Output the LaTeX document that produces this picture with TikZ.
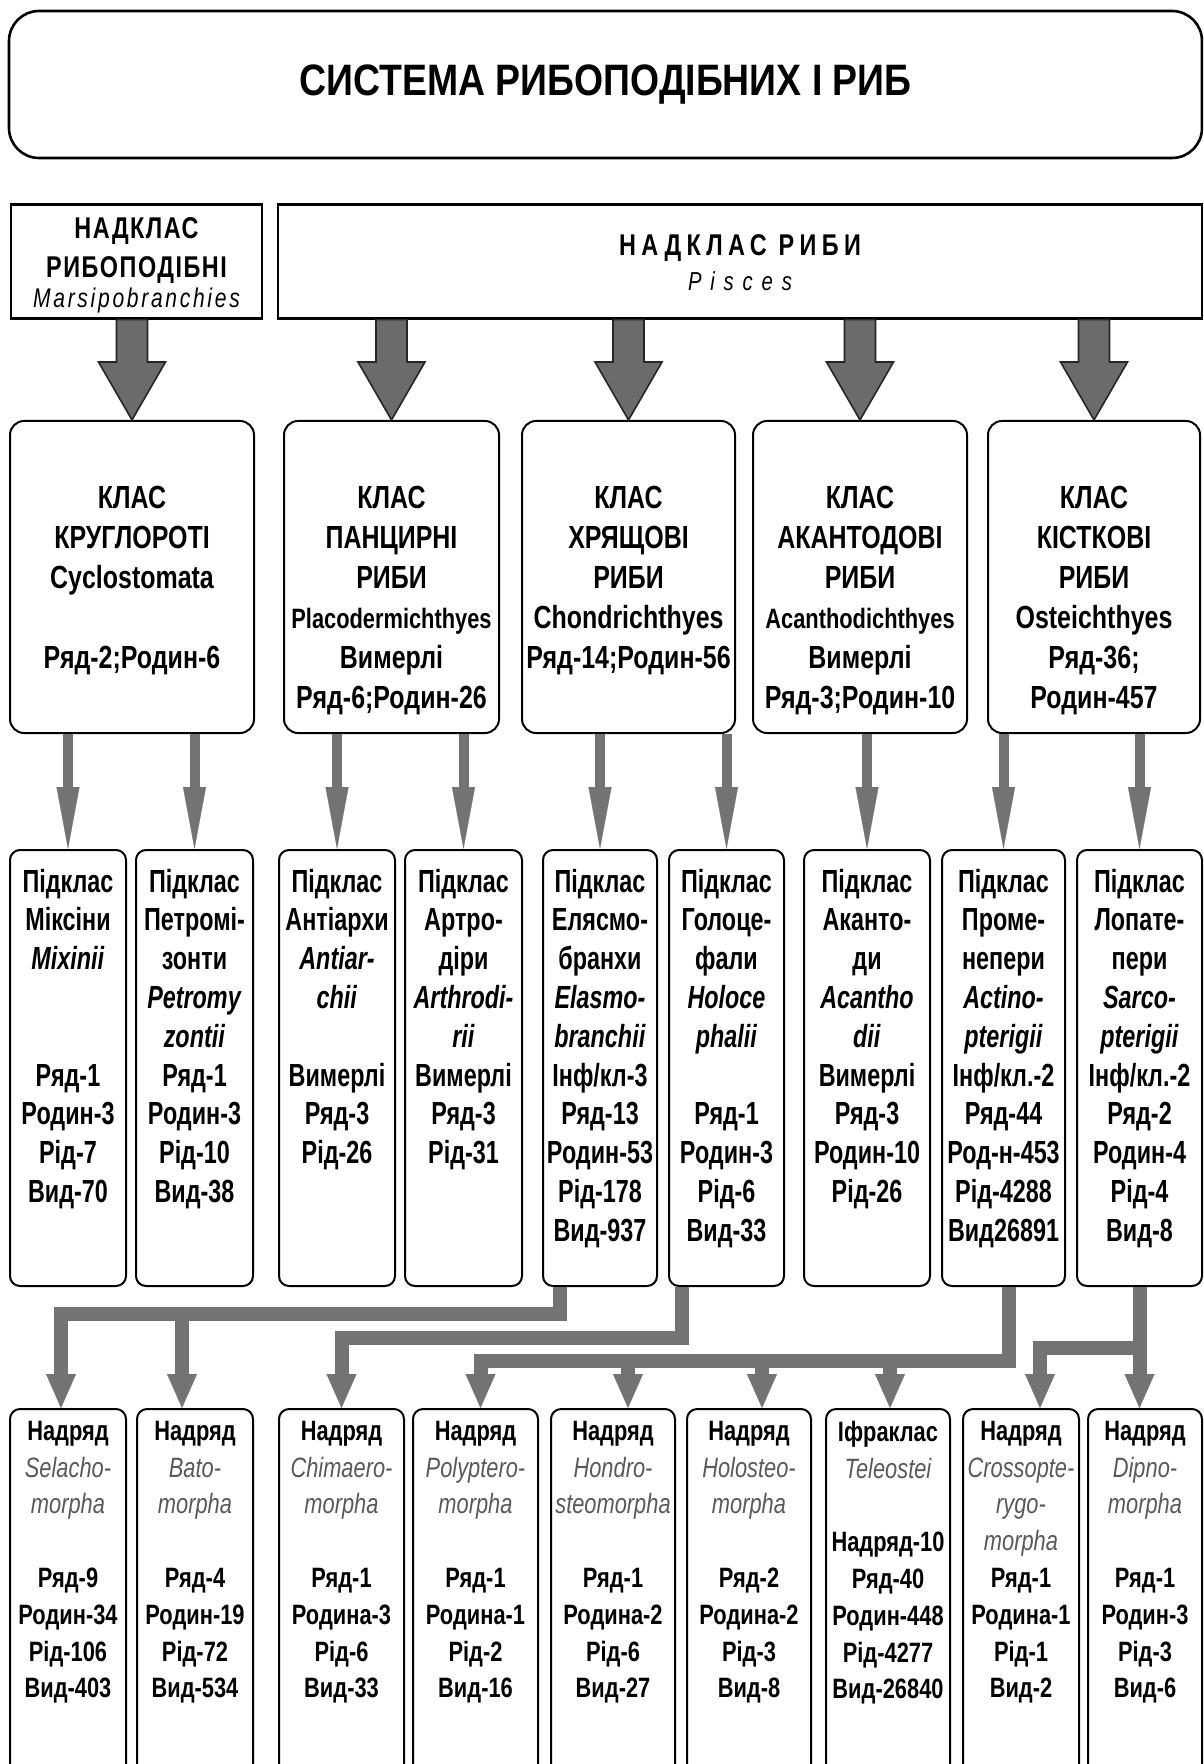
\documentclass[tikz,border=0pt]{standalone}
\usepackage{fontspec}
\setmainfont{Liberation Sans}[FakeStretch=0.78]
\newfontfamily\titlefont{Liberation Sans}[FakeStretch=0.85]
\newfontfamily\narrowfont{Liberation Sans}[FakeStretch=0.73]
\usetikzlibrary{arrows.meta,calc}

\newcommand{\cell}[3]{\parbox[t][#2][t]{#1}{\centering #3}}
\newcommand{\track}[1]{\addfontfeature{LetterSpace=#1}}
\newcommand{\lat}[1]{{\mdseries\itshape\color{black!65}#1}}

\begin{document}
\begin{tikzpicture}[x=0.5pt, y=-0.5pt,
        titlebox/.style={
            draw, line width=1.3pt, rounded corners=15pt,
            minimum width=596.5pt, minimum height=73.5pt,
            font=\titlefont\fontsize{22}{26}\selectfont\bfseries
        },
        superbox/.style={
            draw, line width=1.3pt, anchor=north, inner xsep=0pt
        },
        classbox/.style={
            draw, line width=1pt, rounded corners=7pt, anchor=north,
            inner xsep=0pt, inner ysep=32.5pt,
            font=\fontsize{16}{20}\selectfont\bfseries
        },
        subbox/.style={
            draw, line width=1pt, rounded corners=5pt, anchor=north,
            inner xsep=0pt, inner ysep=9.5pt,
            font=\narrowfont\fontsize{16}{19.4}\selectfont\bfseries
        },
        orderbox/.style={
            draw, line width=1pt, rounded corners=5pt, anchor=north,
            inner xsep=0pt, inner ysep=6pt,
            font=\fontsize{14}{18.4}\selectfont\bfseries
        },
        bigarrow/.style={fill=black!58, draw=black!85, line width=0.8pt},
        subarrow/.style={
            draw=black!55, line width=5pt,
            -{Triangle[length=31pt,width=11.5pt,line width=0.1pt]}
        },
        link/.style={
            draw=black!55, line width=7pt,
            -{Triangle[length=17pt,width=15pt,line width=0.1pt]}
        }
    ]
        \clip (0,0) rectangle (1203,1764);

        % Title
        \node[titlebox] (sys) at (605.5,84.5) {СИСТЕМА РИБОПОДІБНИХ І РИБ};

        % Superclasses
        \node[superbox, inner ysep=6.75pt, font=\fontsize{15}{19.5}\selectfont] (n1) at (136.5,203)
            {\cell{125.5pt}{43.5pt}{\bfseries\track{5}НАДКЛАС\\ РИБОПОДІБНІ\\[-4.5pt]
             {\fontsize{13.5}{19.5}\selectfont\mdseries\itshape\track{10}Marsipobranchies}}};
        \node[superbox, inner ysep=15.25pt, font=\fontsize{15}{17.5}\selectfont] (n2) at (740,203)
            {\cell{462pt}{26.5pt}{\bfseries\track{18}НАДКЛАС РИБИ\\
             {\fontsize{13}{17.5}\selectfont\mdseries\itshape\track{34}Pisces}}};

        % Classes
        \node[classbox] (k1) at (132,420) {\cell{122pt}{91pt}{КЛАС\\ КРУГЛОРОТІ\\ Cyclostomata\\[20pt] Ряд-2;Родин-6}};
        \node[classbox] (k2) at (391.5,420) {\cell{107.5pt}{91pt}{КЛАС\\ ПАНЦИРНІ\\ РИБИ\\
            {\fontsize{14}{20}\selectfont Placodermichthyes}\\ Вимерлі\\ Ряд-6;Родин-26}};
        \node[classbox] (k3) at (628.5,420) {\cell{106.5pt}{91pt}{КЛАС\\ ХРЯЩОВІ\\ РИБИ\\ Chondrichthyes\\ Ряд-14;Родин-56}};
        \node[classbox] (k4) at (860,420) {\cell{107pt}{91pt}{КЛАС\\ АКАНТОДОВІ\\ РИБИ\\
            {\fontsize{14}{20}\selectfont Acanthodichthyes}\\ Вимерлі\\ Ряд-3;Родин-10}};
        \node[classbox] (k5) at (1094,420) {\cell{106pt}{91pt}{КЛАС\\ КІСТКОВІ\\ РИБИ\\ Osteichthyes\\ Ряд-36;\\ Родин-457}};

        % Big arrows
        \foreach \kl/\nd in {k1/n1,k2/n2,k3/n2,k4/n2,k5/n2}
            \draw[bigarrow] (\kl.north) -- ++(-33.5,-58) -- ++(18,0)
                -- ($(\kl.north |- \nd.south)+(-15.5,0)$) -- ($(\kl.north |- \nd.south)+(15.5,0)$)
                -- ($(\kl.north)+(15.5,-58)$) -- ++(18,0) -- cycle;

        % Subclasses
        \node[subbox] (s1) at (68,849) {\cell{58pt}{199pt}{Підклас\\ Міксіни\\ \textit{Mixinii}\\[38.8pt]
            Ряд-1\\ Родин-3\\ Рід-7\\ Вид-70}};
        \node[subbox] (s2) at (194.5,849) {\cell{58.5pt}{199pt}{Підклас\\ Петромі-\\ зонти\\ \textit{Petromy}\\ \textit{zontii}\\
            Ряд-1\\ Родин-3\\ Рід-10\\ Вид-38}};
        \node[subbox] (s3) at (337,849) {\cell{58pt}{199pt}{Підклас\\ Антіархи\\ \textit{Antiar-}\\ \textit{chii}\\[19.4pt]
            Вимерлі\\ Ряд-3\\ Рід-26}};
        \node[subbox] (s4) at (463.5,849) {\cell{58.5pt}{199pt}{Підклас\\ Артро-\\ діри\\ \textit{Arthrodi-}\\ \textit{rii}\\
            Вимерлі\\ Ряд-3\\ Рід-31}};
        \node[subbox] (s5) at (600,849) {\cell{57pt}{199pt}{Підклас\\ Елясмо-\\ бранхи\\ \textit{Elasmo-}\\ \textit{branchii}\\
            Інф/кл-3\\ Ряд-13\\ Родин-53\\ Рід-178\\ Вид-937}};
        \node[subbox] (s6) at (726.5,849) {\cell{57.5pt}{199pt}{Підклас\\ Голоце-\\ фали\\ \textit{Holoce}\\ \textit{phalii}\\[19.4pt]
            Ряд-1\\ Родин-3\\ Рід-6\\ Вид-33}};
        \node[subbox] (s7) at (867,849) {\cell{63pt}{199pt}{Підклас\\ Аканто-\\ ди\\ \textit{Acantho}\\ \textit{dii}\\
            Вимерлі\\ Ряд-3\\ Родин-10\\ Рід-26}};
        \node[subbox] (s8) at (1003.5,849) {\cell{61.5pt}{199pt}{Підклас\\ Проме-\\ непери\\ \textit{Actino-}\\ \textit{pterigii}\\
            Інф/кл.-2\\ Ряд-44\\ Род-н-453\\ Рід-4288\\ Вид26891}};
        \node[subbox] (s9) at (1139.5,849) {\cell{62.5pt}{199pt}{Підклас\\ Лопате-\\ пери\\ \textit{Sarco-}\\ \textit{pterigii}\\
            Інф/кл.-2\\ Ряд-2\\ Родин-4\\ Рід-4\\ Вид-8}};

        % Thin arrows
        \foreach \kl/\sb in {k1/s1,k1/s2,k2/s3,k2/s4,k3/s5,k3/s6,k4/s7,k5/s8,k5/s9}
            \draw[subarrow] (\kl.south -| \sb.north) -- (\sb.north);

        % Superorders
        \node[orderbox] (r1) at (68,1408) {\cell{58pt}{188pt}{Надряд\\ \lat{Selacho-}\\ \lat{morpha}\\[18.4pt]
            Ряд-9\\ Родин-34\\ Рід-106\\ Вид-403}};
        \node[orderbox] (r2) at (195,1408) {\cell{58pt}{188pt}{Надряд\\ \lat{Bato-}\\ \lat{morpha}\\[18.4pt]
            Ряд-4\\ Родин-19\\ Рід-72\\ Вид-534}};
        \node[orderbox] (r3) at (341.5,1408) {\cell{62.5pt}{188pt}{Надряд\\ \lat{Chimaero-}\\ \lat{morpha}\\[18.4pt]
            Ряд-1\\ Родина-3\\ Рід-6\\ Вид-33}};
        \node[orderbox] (r4) at (475.5,1408) {\cell{62.5pt}{188pt}{Надряд\\ \lat{Polyptero-}\\ \lat{morpha}\\[18.4pt]
            Ряд-1\\ Родина-1\\ Рід-2\\ Вид-16}};
        \node[orderbox] (r5) at (613,1408) {\cell{62pt}{188pt}{Надряд\\ \lat{Hondro-}\\ \lat{steomorpha}\\[18.4pt]
            Ряд-1\\ Родина-2\\ Рід-6\\ Вид-27}};
        \node[orderbox] (r6) at (749,1408) {\cell{62pt}{188pt}{Надряд\\ \lat{Holosteo-}\\ \lat{morpha}\\[18.4pt]
            Ряд-2\\ Родина-2\\ Рід-3\\ Вид-8}};
        \node[orderbox] (r7) at (888,1408) {\cell{62pt}{188pt}{Іфраклас\\ \lat{Teleostei}\\[18.4pt]
            Надряд-10\\ Ряд-40\\ Родин-448\\ Рід-4277\\ Вид-26840}};
        \node[orderbox] (r8) at (1021,1408) {\cell{58pt}{188pt}{Надряд\\ \lat{Crossopte-}\\ \lat{rygo-}\\ \lat{morpha}\\
            Ряд-1\\ Родина-1\\ Рід-1\\ Вид-2}};
        \node[orderbox] (r9) at (1145,1408) {\cell{57pt}{188pt}{Надряд\\ \lat{Dipno-}\\ \lat{morpha}\\[18.4pt]
            Ряд-1\\ Родин-3\\ Рід-3\\ Вид-6}};

        % Links (horizontal bands)
        \coordinate (band1) at (0,1314);
        \coordinate (band2) at (0,1338);
        \coordinate (band3) at (0,1361);
        \coordinate (band4) at (0,1348);

        \draw[link] ([xshift=-20pt]s5.south) |- ([xshift=-3.5pt]r1.north |- band1) -- ([xshift=-3.5pt]r1.north);
        \draw[link] ([xshift=-6.5pt]r2.north |- band1) -- ([xshift=-6.5pt]r2.north);
        \draw[link] ([xshift=-22.5pt]s6.south) |- (r3.north |- band2) -- (r3.north);
        \draw[link] ([xshift=2.5pt]s8.south) |- ([xshift=2.5pt]r4.north |- band3) -- ([xshift=2.5pt]r4.north);
        \foreach \rr/\dx in {r5/7.5pt,r6/6.5pt,r7/1pt}
            \draw[link] ([xshift=\dx]\rr.north |- band3) -- ([xshift=\dx]\rr.north);
        \draw[link] (s9.south) -- (s9.south |- r9.north);
        \draw[link] (s9.south |- band4) -| ([xshift=9.5pt]r8.north);

    \end{tikzpicture}
\end{document}
